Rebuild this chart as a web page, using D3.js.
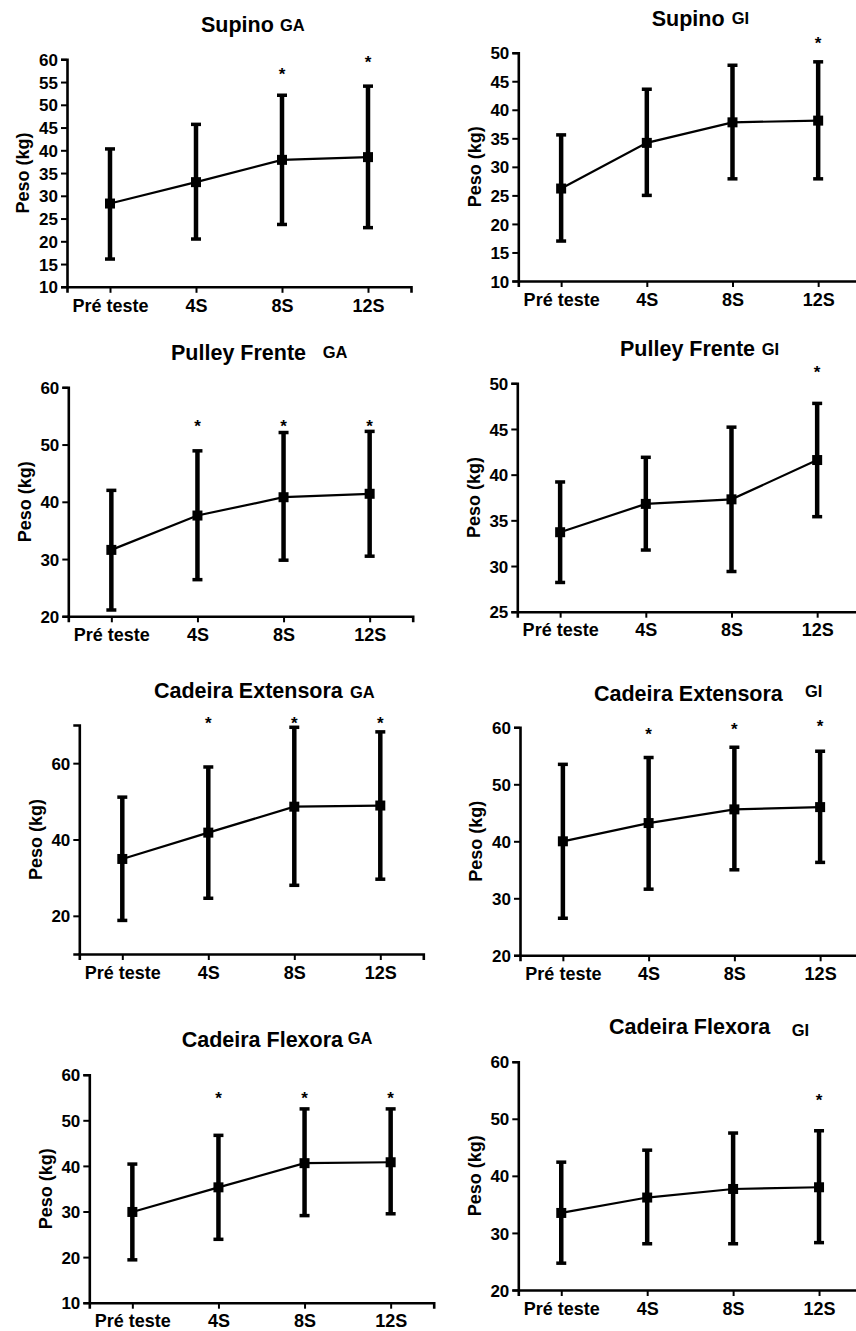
<!DOCTYPE html>
<html>
<head>
<meta charset="utf-8">
<script src="https://cdn.jsdelivr.net/npm/d3@7"></script>
<style>
  html, body { margin: 0; padding: 0; background: #fff; }
  svg { display: block; }
  text { font-family: "Liberation Sans", Arial, Helvetica, sans-serif; font-weight: bold; fill: #000; }
</style>
</head>
<body>
<svg id="chart" width="856" height="1331"></svg>
<script>
// ---------- DATA ----------
const categories = ["Pré teste", "4S", "8S", "12S"];

const supinoGA_mean  = [28.3, 33.0, 37.9, 38.5];
const supinoGA_upper = [40.3, 45.7, 52.1, 54.1];
const supinoGA_lower = [16.1, 20.5, 23.7, 23.0];
const supinoGA_star  = [null, null, 57.5, 60.2];
const supinoGA_ticks = [10, 15, 20, 25, 30, 35, 40, 45, 50, 55, 60];

const supinoGI_mean  = [26.2, 34.2, 37.8, 38.1];
const supinoGI_upper = [35.6, 43.6, 47.8, 48.4];
const supinoGI_lower = [17.0, 25.0, 27.9, 27.9];
const supinoGI_star  = [null, null, null, 52.3];
const supinoGI_ticks = [10, 15, 20, 25, 30, 35, 40, 45, 50];

const pulleyGA_mean  = [31.6, 37.6, 40.8, 41.4];
const pulleyGA_upper = [42.0, 48.9, 52.1, 52.3];
const pulleyGA_lower = [21.1, 26.4, 29.8, 30.5];
const pulleyGA_star  = [null, 53.8, 53.8, 53.8];
const pulleyGA_ticks = [20, 30, 40, 50, 60];

const pulleyGI_mean  = [33.7, 36.8, 37.3, 41.6];
const pulleyGI_upper = [39.2, 41.9, 45.2, 47.8];
const pulleyGI_lower = [28.2, 31.75, 29.4, 35.4];
const pulleyGI_star  = [null, null, null, 51.6];
const pulleyGI_ticks = [25, 30, 35, 40, 45, 50];

const extensoraGA_mean  = [34.9, 41.8, 48.6, 48.9];
const extensoraGA_upper = [51.1, 59.0, 69.4, 68.2];
const extensoraGA_lower = [18.8, 24.6, 28.0, 29.6];
const extensoraGA_star  = [null, 71.4, 71.4, 71.4];
const extensoraGA_ticks = [20, 40, 60];

const extensoraGI_mean  = [40.0, 43.2, 45.6, 46.0];
const extensoraGI_upper = [53.5, 54.7, 56.5, 55.8];
const extensoraGI_lower = [26.5, 31.6, 35.0, 36.3];
const extensoraGI_star  = [null, 59.4, 60.3, 60.9];
const extensoraGI_ticks = [20, 30, 40, 50, 60];

const flexoraGA_mean  = [29.9, 35.3, 40.6, 40.8];
const flexoraGA_upper = [40.4, 46.7, 52.5, 52.5];
const flexoraGA_lower = [19.4, 23.9, 29.1, 29.5];
const flexoraGA_star  = [null, 55.8, 55.8, 55.8];
const flexoraGA_ticks = [10, 20, 30, 40, 50, 60];

const flexoraGI_mean  = [33.5, 36.2, 37.7, 38.0];
const flexoraGI_upper = [42.4, 44.5, 47.5, 47.9];
const flexoraGI_lower = [24.7, 28.1, 28.1, 28.3];
const flexoraGI_star  = [null, null, null, 53.9];
const flexoraGI_ticks = [20, 30, 40, 50, 60];

const yLabel = "Peso (kg)";

// ---------- PANELS (data references + layout) ----------
const panels = [
  { title: "Supino", group: "GA", mean: supinoGA_mean, upper: supinoGA_upper, lower: supinoGA_lower, star: supinoGA_star, ticks: supinoGA_ticks, domain: [10, 60],
    L: 67, R: 411, T: 59.3, B: 286.8, tx: 201, ty: 32.3, gx: 280, gy: 30.7 },
  { title: "Supino", group: "GI", mean: supinoGI_mean, upper: supinoGI_upper, lower: supinoGI_lower, star: supinoGI_star, ticks: supinoGI_ticks, domain: [10, 50],
    L: 518.3, R: 861, T: 52.7, B: 281, tx: 651.7, ty: 26, gx: 731.7, gy: 24 },
  { title: "Pulley Frente", group: "GA", mean: pulleyGA_mean, upper: pulleyGA_upper, lower: pulleyGA_lower, star: pulleyGA_star, ticks: pulleyGA_ticks, domain: [20, 60],
    L: 68.3, R: 412.7, T: 387.3, B: 616.3, tx: 171, ty: 360, gx: 322.7, gy: 358.3 },
  { title: "Pulley Frente", group: "GI", mean: pulleyGI_mean, upper: pulleyGI_upper, lower: pulleyGI_lower, star: pulleyGI_star, ticks: pulleyGI_ticks, domain: [25, 50],
    L: 517.3, R: 860, T: 383.3, B: 611.7, tx: 620, ty: 356, gx: 761.7, gy: 355 },
  { title: "Cadeira Extensora", group: "GA", mean: extensoraGA_mean, upper: extensoraGA_upper, lower: extensoraGA_lower, star: extensoraGA_star, ticks: extensoraGA_ticks, domain: [10, 70],
    L: 79.3, R: 423.3, T: 725, B: 954, tx: 154, ty: 698.3, gx: 350, gy: 697.7 },
  { title: "Cadeira Extensora", group: "GI", mean: extensoraGI_mean, upper: extensoraGI_upper, lower: extensoraGI_lower, star: extensoraGI_star, ticks: extensoraGI_ticks, domain: [20, 60],
    L: 520, R: 863, T: 727.3, B: 955.3, tx: 594, ty: 700.7, gx: 805, gy: 696.7 },
  { title: "Cadeira Flexora", group: "GA", mean: flexoraGA_mean, upper: flexoraGA_upper, lower: flexoraGA_lower, star: flexoraGA_star, ticks: flexoraGA_ticks, domain: [10, 60],
    L: 89.3, R: 433.7, T: 1074.7, B: 1302.7, tx: 181.7, ty: 1046.7, gx: 347.7, gy: 1044 },
  { title: "Cadeira Flexora", group: "GI", mean: flexoraGI_mean, upper: flexoraGI_upper, lower: flexoraGI_lower, star: flexoraGI_star, ticks: flexoraGI_ticks, domain: [20, 60],
    L: 518.3, R: 862, T: 1061.7, B: 1290, tx: 609, ty: 1034.3, gx: 791.7, gy: 1036 }
];

const svg = d3.select("#chart");

panels.forEach(p => {
  const g = svg.append("g");
  const x = d3.scalePoint().domain(categories).range([p.L, p.R]).padding(0.5);
  const y = d3.scaleLinear().domain(p.domain).range([p.B, p.T]);

  const rows = categories.map((c, i) => ({ c, m: p.mean[i], u: p.upper[i], l: p.lower[i], s: p.star[i] }));

  // Y axis
  const ya = g.append("g").attr("transform", `translate(${p.L},0)`)
    .call(d3.axisLeft(y).tickValues(p.ticks).tickSizeOuter(0).tickSize(6).tickPadding(3).tickFormat(d3.format("d")));
  ya.select(".domain").attr("stroke", "#000").attr("stroke-width", 2.6);
  ya.selectAll(".tick line").attr("stroke", "#000").attr("stroke-width", 2);
  ya.selectAll(".tick text").style("font-size", "17px").attr("dy", "0.36em");

  // X axis
  const xa = g.append("g").attr("transform", `translate(0,${p.B})`)
    .call(d3.axisBottom(x).tickSizeOuter(0).tickSize(6).tickPadding(6));
  xa.select(".domain").attr("stroke", "#000").attr("stroke-width", 2.6);
  xa.selectAll(".tick line").attr("stroke", "#000").attr("stroke-width", 2);
  xa.selectAll(".tick text").style("font-size", "18px");

  // Y label
  g.append("text")
    .attr("transform", `translate(${p.L - 44},${(p.T + p.B) / 2}) rotate(-90)`)
    .attr("text-anchor", "middle").attr("dy", "0.35em")
    .style("font-size", "18px")
    .text(yLabel);

  // Title
  g.append("text").attr("x", p.tx).attr("y", p.ty).style("font-size", "21.5px").text(p.title);
  g.append("text").attr("x", p.gx).attr("y", p.gy).style("font-size", "16.5px").text(p.group);

  // Error bars
  g.selectAll(".eb").data(rows).enter().append("line")
    .attr("x1", d => x(d.c)).attr("x2", d => x(d.c))
    .attr("y1", d => y(d.l)).attr("y2", d => y(d.u))
    .attr("stroke", "#000").attr("stroke-width", 4.5);
  ["u", "l"].forEach(k => {
    g.selectAll(".cap" + k).data(rows).enter().append("line")
      .attr("x1", d => x(d.c) - 5).attr("x2", d => x(d.c) + 5)
      .attr("y1", d => y(d[k])).attr("y2", d => y(d[k]))
      .attr("stroke", "#000").attr("stroke-width", 3.5);
  });

  // Mean line
  g.append("path").datum(rows)
    .attr("d", d3.line().x(d => x(d.c)).y(d => y(d.m)))
    .attr("fill", "none").attr("stroke", "#000").attr("stroke-width", 2.2);

  // Markers
  g.selectAll(".mk").data(rows).enter().append("rect")
    .attr("x", d => x(d.c) - 5).attr("y", d => y(d.m) - 5)
    .attr("width", 10).attr("height", 10).attr("fill", "#000");

  // Significance stars
  g.selectAll(".st").data(rows.filter(d => d.s !== null)).enter().append("text")
    .attr("x", d => x(d.c)).attr("y", d => y(d.s))
    .attr("text-anchor", "middle").attr("dy", "0.57em")
    .style("font-size", "17px")
    .text("*");
});
</script>
</body>
</html>
